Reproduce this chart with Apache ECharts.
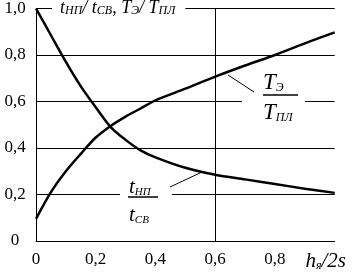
<!DOCTYPE html>
<html><head><meta charset="utf-8">
<script src="https://cdn.jsdelivr.net/npm/echarts@6/dist/echarts.min.js"></script>
<style>html,body{margin:0;padding:0;background:#fff}#c{width:358px;height:272px}</style>
</head><body><div id="c"></div>
<script>
var xValues = [0, 0.05, 0.1, 0.15, 0.2, 0.25, 0.3, 0.35, 0.4, 0.5, 0.6, 0.7, 0.8, 0.9, 1.0];
var tRatio  = [1.0, 0.885, 0.77, 0.665, 0.575, 0.49, 0.435, 0.39, 0.36, 0.315, 0.285, 0.265, 0.245, 0.225, 0.207];
var TRatio  = [0.095, 0.21, 0.30, 0.375, 0.445, 0.495, 0.535, 0.57, 0.605, 0.655, 0.707, 0.755, 0.80, 0.85, 0.897];
var yTicks = ['0', '0,2', '0,4', '0,6', '0,8', '1,0'];
var xTicks = ['0', '0,2', '0,4', '0,6', '0,8'];

var F = 'Liberation Serif';
function pairs(ys){ return xValues.map(function(x,i){ return [x, ys[i]]; }); }

var chart = echarts.init(document.getElementById('c'), null, {renderer:'canvas'});
chart.setOption({
  animation: false,
  backgroundColor: '#fff',
  textStyle: {fontFamily: F},
  grid: {left: 36, right: 13, top: 8.5, bottom: 31, containLabel: false},
  title: {
    left: 52, top: 0, padding: [0, 10, 0, 8], backgroundColor: '#fff',
    text: '{i|t}{s|НП}{i|/ t}{s|СВ}{n|, }{i|T}{s|Э}{i|/ T}{s|ПЛ}',
    textStyle: {
      fontWeight: 'normal', fontFamily: F,
      rich: {
        i: {fontFamily: F, fontStyle: 'italic', fontWeight: 'normal', fontSize: 18, color: '#000', lineHeight: 17},
        n: {fontFamily: F, fontWeight: 'normal', fontSize: 18, color: '#000', lineHeight: 17},
        s: {fontFamily: F, fontStyle: 'italic', fontWeight: 'normal', fontSize: 12, color: '#000', verticalAlign: 'bottom', lineHeight: 14}
      }
    }
  },
  xAxis: {
    type: 'value', min: 0, max: 1, interval: 0.2,
    axisLine: {show: true, lineStyle: {color: '#000', width: 1}},
    axisTick: {show: false},
    splitLine: {show: false},
    axisLabel: {
      margin: 10, color: '#000', fontFamily: F, fontSize: 17,
      formatter: function(v){
        var i = Math.round(v / 0.2);
        if (i >= xTicks.length) return '{i|h}{s|я}{i|/2s}{p|}';
        return '{n|' + xTicks[i] + '}';
      },
      rich: {
        n: {fontFamily: F, fontSize: 17, color: '#000'},
        i: {fontFamily: F, fontStyle: 'italic', fontSize: 21, color: '#000'},
        s: {fontFamily: F, fontStyle: 'italic', fontSize: 12, color: '#000', verticalAlign: 'bottom', padding: [6,0,0,0]},
        p: {width: 18}
      }
    }
  },
  yAxis: {
    type: 'value', min: 0, max: 1, interval: 0.2,
    axisLine: {show: true, lineStyle: {color: '#000', width: 1}},
    axisTick: {show: false},
    splitLine: {show: true, lineStyle: {color: '#000', width: 1}},
    axisLabel: {
      margin: 21, align: 'center', color: '#000', fontFamily: F, fontSize: 17,
      formatter: function(v){ return '{n|' + yTicks[Math.round(v / 0.2)] + '}'; },
      rich: { n: {fontFamily: F, fontSize: 17, color: '#000'} }
    }
  },
  series: [
    {
      type: 'line', data: pairs(tRatio), smooth: 0.3, showSymbol: false,
      lineStyle: {color: '#000', width: 2.5}, z: 3,
      markLine: {
        silent: true, symbol: 'none', label: {show: false},
        lineStyle: {color: '#000', width: 1, type: 'solid'},
        data: [{xAxis: 0.6}]
      }
    },
    {
      type: 'line', data: pairs(TRatio), smooth: 0.3, showSymbol: false,
      lineStyle: {color: '#000', width: 2.5}, z: 3
    }
  ],
  graphic: [
    {type: 'rect', shape: {x: 242, y: 80, width: 63, height: 40}, style: {fill: '#fff'}, z: 100},
    {type: 'line', shape: {x1: 263, y1: 95, x2: 298, y2: 95}, style: {stroke: '#000', lineWidth: 1.5}, z: 101},
    {type: 'text', x: 263, y: 71, z: 101, style: {
      text: '{i|T}{s|Э}', rich: {
        i: {fontFamily: F, fontStyle: 'italic', fontSize: 23, fill: '#000'},
        s: {fontFamily: F, fontStyle: 'italic', fontSize: 12, fill: '#000', verticalAlign: 'bottom', padding: [8,0,0,0]}
      }}},
    {type: 'text', x: 263, y: 101, z: 101, style: {
      text: '{i|T}{s|ПЛ}', rich: {
        i: {fontFamily: F, fontStyle: 'italic', fontSize: 23, fill: '#000'},
        s: {fontFamily: F, fontStyle: 'italic', fontSize: 12, fill: '#000', verticalAlign: 'bottom', padding: [8,0,0,0]}
      }}},
    {type: 'line', shape: {x1: 228, y1: 75, x2: 254, y2: 92}, style: {stroke: '#000', lineWidth: 1}, z: 101},
    {type: 'rect', shape: {x: 120, y: 180, width: 52, height: 50}, style: {fill: '#fff'}, z: 100},
    {type: 'line', shape: {x1: 128, y1: 197, x2: 158, y2: 197}, style: {stroke: '#000', lineWidth: 1.5}, z: 101},
    {type: 'text', x: 129, y: 177, z: 101, style: {
      text: '{i|t}{s|НП}', rich: {
        i: {fontFamily: F, fontStyle: 'italic', fontSize: 21, fill: '#000'},
        s: {fontFamily: F, fontStyle: 'italic', fontSize: 11, fill: '#000', verticalAlign: 'bottom', padding: [7,0,0,0]}
      }}},
    {type: 'text', x: 129, y: 205, z: 101, style: {
      text: '{i|t}{s|СВ}', rich: {
        i: {fontFamily: F, fontStyle: 'italic', fontSize: 21, fill: '#000'},
        s: {fontFamily: F, fontStyle: 'italic', fontSize: 11, fill: '#000', verticalAlign: 'bottom', padding: [7,0,0,0]}
      }}},
    {type: 'line', shape: {x1: 170, y1: 187, x2: 202, y2: 172}, style: {stroke: '#000', lineWidth: 1}, z: 101}
  ]
});
</script>
</body></html>
